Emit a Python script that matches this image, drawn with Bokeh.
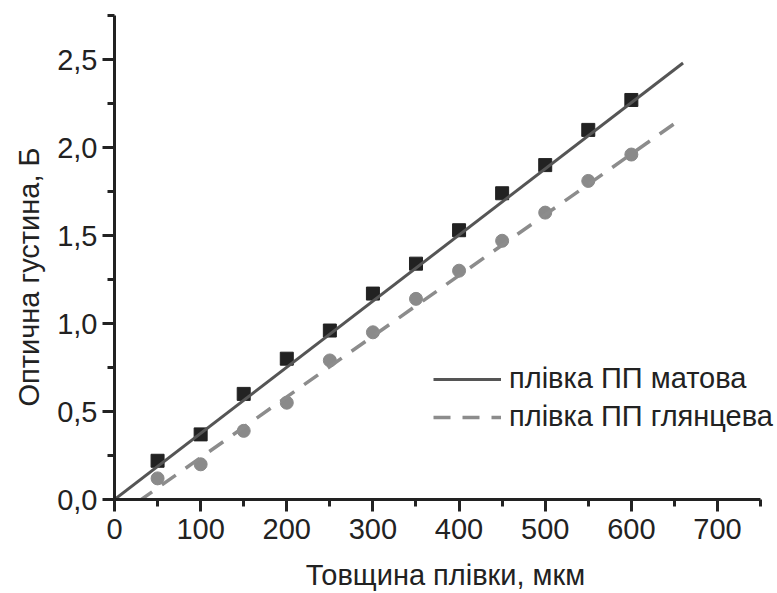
from bokeh.plotting import figure
from bokeh.models import FixedTicker, Range1d, Legend, LegendItem, Title
from bokeh.embed import file_html
from bokeh.resources import INLINE

# ---- data ----
thickness = [50, 100, 150, 200, 250, 300, 350, 400, 450, 500, 550, 600]
density_matte = [0.22, 0.37, 0.60, 0.80, 0.96, 1.17, 1.34, 1.53, 1.74, 1.90, 2.10, 2.27]
density_glossy = [0.12, 0.20, 0.39, 0.55, 0.79, 0.95, 1.14, 1.30, 1.47, 1.63, 1.81, 1.96]

fit_thickness = [0, 660]
fit_matte = [0.0, 2.48]
fit_glossy = [-0.107, 2.17]

series_labels = ["плівка ПП матова", "плівка ПП глянцева"]

x_ticks = [0, 100, 200, 300, 400, 500, 600, 700]
x_minor_ticks = [50, 150, 250, 350, 450, 550, 650, 750]
y_ticks = [0.0, 0.5, 1.0, 1.5, 2.0, 2.5]
y_tick_labels = ["0,0", "0,5", "1,0", "1,5", "2,0", "2,5"]
y_minor_ticks = [0.25, 0.75, 1.25, 1.75, 2.25, 2.75]

x_label = "Товщина плівки, мкм"
y_label = "Оптична густина, Б"

FONT = "Liberation Sans"
INK = "#222222"

# frame runs a bit past x=750 so the legend text is not clipped; the axis stops at 750
p = figure(width=776, height=593, output_backend="svg", toolbar_location=None,
           x_range=Range1d(0, 768.5), y_range=Range1d(0, 2.75),
           min_border_left=113, min_border_right=0,
           min_border_top=15, min_border_bottom=92)

p.xgrid.visible = False
p.ygrid.visible = False
p.outline_line_color = None
p.background_fill_color = "white"
p.border_fill_color = "white"

p.xaxis.ticker = FixedTicker(ticks=x_ticks, minor_ticks=x_minor_ticks)
p.yaxis.ticker = FixedTicker(ticks=y_ticks, minor_ticks=y_minor_ticks)
p.yaxis.major_label_overrides = {t: l for t, l in zip(y_ticks, y_tick_labels)}
p.xaxis.bounds = (0, 750)

for ax in (p.xaxis[0], p.yaxis[0]):
    ax.axis_line_width = 3
    ax.axis_line_color = INK
    ax.major_tick_line_width = 3
    ax.minor_tick_line_width = 3
    ax.major_tick_line_color = INK
    ax.minor_tick_line_color = INK
    ax.major_tick_out = 12
    ax.major_tick_in = 0
    ax.minor_tick_out = 7
    ax.minor_tick_in = 0
    ax.major_label_text_font = FONT
    ax.major_label_text_font_size = "29px"
    ax.major_label_text_color = INK
    ax.axis_label_text_font = FONT
    ax.axis_label_text_font_size = "29px"
    ax.axis_label_text_font_style = "normal"
    ax.axis_label_text_color = INK

p.xaxis.axis_label = x_label
p.xaxis.major_label_standoff = 7
p.xaxis.axis_label_standoff = 17
p.yaxis.major_label_standoff = 5

# y-axis title, placed a little below the frame centre as in the reference
p.add_layout(Title(text=y_label, align="left", offset=93, standoff=20,
                   text_font=FONT, text_font_size="29px", text_font_style="normal",
                   text_color=INK), "left")

p.scatter(thickness, density_matte, marker="square", size=13,
          fill_color="#222222", line_color="#222222")
p.scatter(thickness, density_glossy, marker="circle", size=13,
          fill_color="#8a8a8a", line_color="#8a8a8a")

r_matte = p.line(fit_thickness, fit_matte, line_color="#555555", line_width=3)
r_glossy = p.line(fit_thickness, fit_glossy, line_color="#8c8c8c", line_width=3.5,
                  line_dash="17 12")

legend = Legend(items=[LegendItem(label=series_labels[0], renderers=[r_matte]),
                       LegendItem(label=series_labels[1], renderers=[r_glossy])],
                location=(319, 66), border_line_color=None,
                background_fill_alpha=0, padding=0, margin=0, spacing=5,
                glyph_width=68, glyph_height=30, label_height=30,
                label_standoff=8, label_text_font=FONT,
                label_text_font_size="29px", label_text_color=INK)
p.add_layout(legend)

open("out.html", "w").write(file_html(p, INLINE))
